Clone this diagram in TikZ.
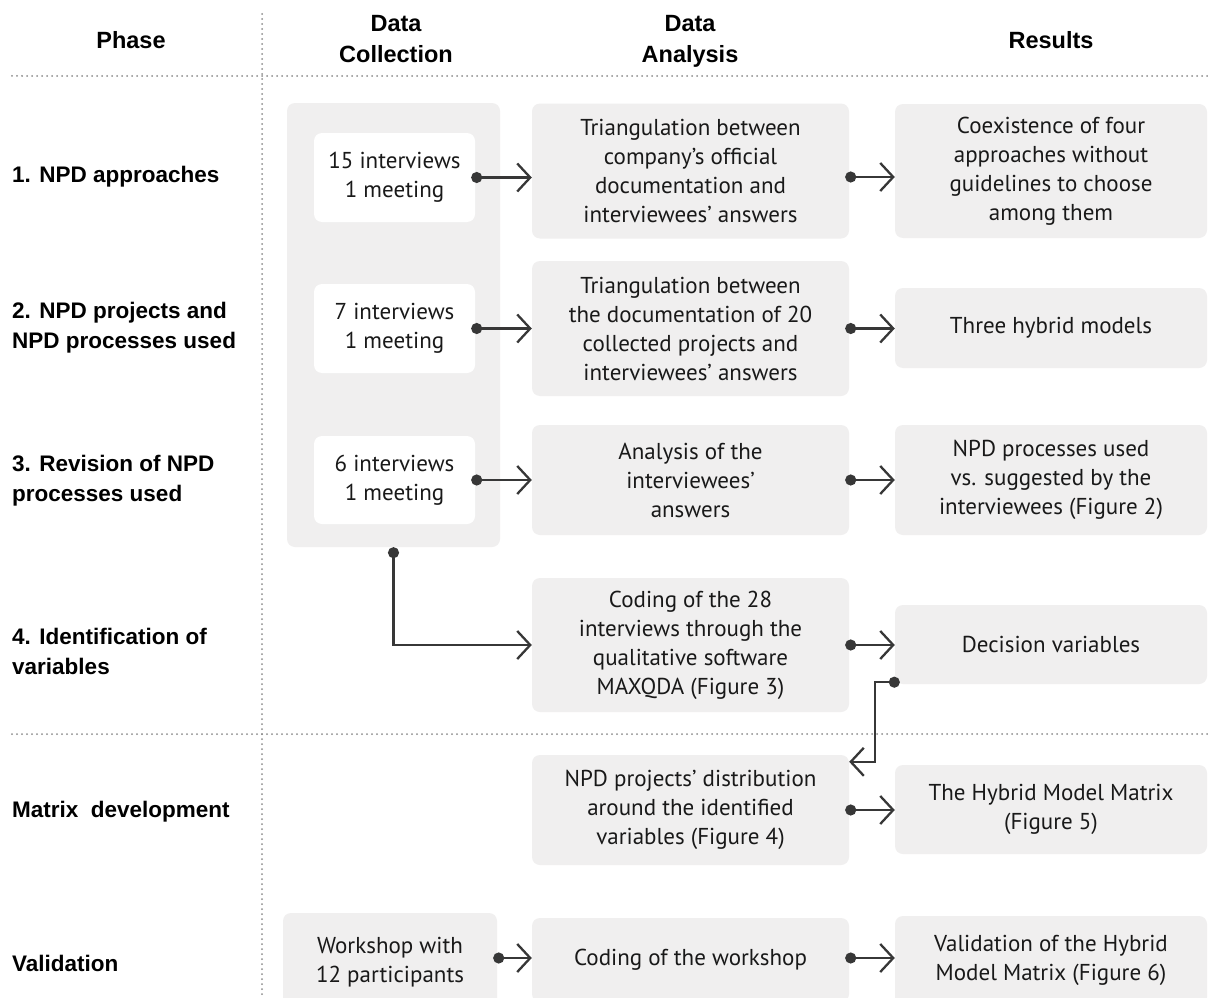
\documentclass[tikz,border=0pt]{standalone}
\usepackage{fontspec}
\setmainfont{PT Sans}
\newfontfamily\headfont{Liberation Sans}
\usetikzlibrary{arrows.meta}
\definecolor{boxgray}{RGB}{240,239,239}
\definecolor{linegray}{RGB}{55,55,55}
\definecolor{dotgray}{RGB}{140,140,140}
\definecolor{txt}{RGB}{25,25,25}
\tikzset{
  gbox/.style={fill=boxgray, draw=none, rounded corners=8pt, inner sep=0pt, align=center, text=txt,
    font={\fontsize{23}{29}\selectfont}},
  wbox/.style={gbox, fill=white},
  head/.style={align=center, text=black, font={\headfont\bfseries\fontsize{23.5}{31}\selectfont}},
  phase/.style={anchor=west, align=left, text=black, inner sep=0pt, font={\headfont\bfseries\fontsize{22.5}{30}\selectfont}},
  conn/.style={draw=linegray, line width=2.3pt,
    {Circle[length=11pt]}-{Straight Barb[length=13pt, width=28pt, line width=2.3pt]}},
  sep/.style={draw=dotgray, line width=2pt, dash pattern=on 0pt off 5pt, line cap=round}
}
\begin{document}
\begin{tikzpicture}[x=1pt,y=-1pt]
\clip (0,0) rectangle (1208,998);
\fill[white] (0,0) rectangle (1208,998);
% separators
\draw[sep] (262,14) -- (262,998);
\draw[sep] (12,76) -- (1208,76);
\draw[sep] (12,734) -- (1208,734);
% headers
\node[head] (hphase) at (131,40) {Phase};
\node[head] (hcoll) at (396,39) {Data\\Collection};
\node[head] (hana) at (690,41) {Data\\Analysis};
\node[head] (hres) at (1051,40) {Results};
% phase labels
\node[phase] (p1) at (12,177) {1. NPD approaches};
\node[phase] (p2) at (12,328) {2. NPD projects and\\NPD processes used};
\node[phase] (p3) at (12,481) {3. Revision of NPD\\processes used};
\node[phase] (p4) at (12,651) {4. Identification of\\variables};
\node[phase] (p5) at (12,812) {Matrix\ \ development};
\node[phase] (p6) at (12,963) {Validation};
% data collection
\node[gbox, minimum width=213, minimum height=444] (Cbig) at (393.5,325) {};
\node[wbox, minimum width=161, minimum height=89] (C1) at (394.5,177.5) {15 interviews\\1 meeting};
\node[wbox, minimum width=161, minimum height=89] (C2) at (394.5,328.5) {7 interviews\\1 meeting};
\node[wbox, minimum width=161, minimum height=88] (C3) at (394.5,480) {6 interviews\\1 meeting};
\node[gbox, minimum width=214, minimum height=98] (V) at (390,962) {Workshop with\\12 participants};
% data analysis
\node[gbox, minimum width=317, minimum height=135] (A1) at (690.5,171) {Triangulation between\\company’s official\\documentation and\\interviewees’ answers};
\node[gbox, minimum width=317, minimum height=135] (A2) at (690.5,328.5) {Triangulation between\\the documentation of 20\\collected projects and\\interviewees’ answers};
\node[gbox, minimum width=317, minimum height=110] (A3) at (690.5,480) {Analysis of the\\interviewees’\\answers};
\node[gbox, minimum width=317, minimum height=134] (A4) at (690.5,645) {Coding of the 28\\interviews through the\\qualitative software\\MAXQDA (Figure 3)};
\node[gbox, minimum width=317, minimum height=110] (A5) at (690.5,810) {NPD projects’ distribution\\around the identified\\variables (Figure 4)};
\node[gbox, minimum width=317, minimum height=84] (A6) at (690.5,960) {Coding of the workshop};
% results
\node[gbox, minimum width=312, minimum height=134] (R1) at (1051,171) {Coexistence of four\\approaches without\\guidelines to choose\\among them};
\node[gbox, minimum width=312, minimum height=80] (R2) at (1051,328) {Three hybrid models};
\node[gbox, minimum width=312, minimum height=110] (R3) at (1051,480) {NPD processes used\\vs. suggested by the\\interviewees (Figure 2)};
\node[gbox, minimum width=312, minimum height=79] (R4) at (1051,644.5) {Decision variables};
\node[gbox, minimum width=312, minimum height=89] (R5) at (1051,809.5) {The Hybrid Model Matrix\\(Figure 5)};
\node[gbox, minimum width=312, minimum height=89] (R6) at (1051,960.5) {Validation of the Hybrid\\Model Matrix (Figure 6)};
% connectors
\coordinate (row1) at (0,177);
\coordinate (vrow) at (0,958);
\draw[conn] ([xshift=-4pt]C1.east) -- (A1.west |- C1.east);
\draw[conn] ([xshift=-4pt]A1.east |- row1) -- (R1.west |- row1);
\draw[conn] ([xshift=-4pt]C2.east) -- (A2.west |- C2.east);
\draw[conn] ([xshift=-4pt]A2.east) -- (R2.west |- A2.east);
\draw[conn] ([xshift=-4pt]C3.east) -- (A3.west |- C3.east);
\draw[conn] ([xshift=-4pt]A3.east) -- (R3.west |- A3.east);
\draw[conn] (Cbig.south) |- (A4.west);
\draw[conn] ([xshift=-4pt]A4.east) -- (R4.west |- A4.east);
\draw[conn] ([xshift=5pt,yshift=2pt]R4.south west) -- ++(-25,0) |- ([yshift=-7pt]A5.north east);
\draw[conn] ([xshift=-4pt]A5.east) -- (R5.west |- A5.east);
\draw[conn] ([xshift=-4pt]V.east |- vrow) -- (A6.west |- vrow);
\draw[conn] ([xshift=-4pt]A6.east |- vrow) -- (R6.west |- vrow);
\end{tikzpicture}
\end{document}
